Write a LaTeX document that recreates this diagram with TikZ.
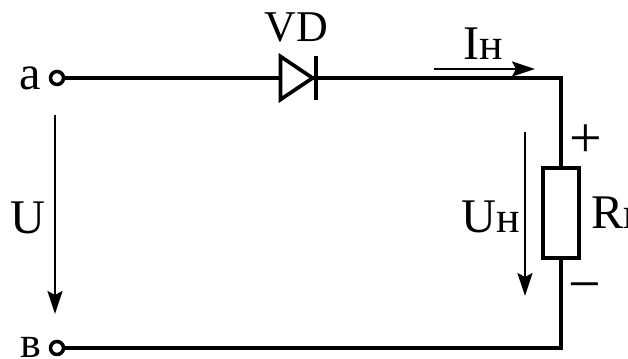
\documentclass[tikz,border=0pt]{standalone}
\usepackage{fontspec}
\setmainfont{Liberation Serif}
\usetikzlibrary{arrows.meta}
\usetikzlibrary{shapes.geometric}
\newcommand{\capsz}{\fontsize{27.5}{30}\selectfont}

\begin{document}
\begin{tikzpicture}[
	x=0.02cm,y=-0.02cm,
	font=\fontsize{25}{28}\selectfont
]
\tikzset{
    wire/.style = {line width=2.8pt},
    pointer/.style = {line width=1.3pt,-{Stealth[length=0.46cm,width=0.3cm,inset=0.08cm]}},
    terminal/.style = {circle, draw=black, line width=2pt, fill=white, inner sep=0pt, minimum size=0.26cm},
    loadbox/.style = {rectangle, draw=black, line width=2.4pt, fill=white, minimum width=0.72cm, minimum height=1.8cm, inner sep=0pt},
    diodebody/.style = {isosceles triangle, isosceles triangle apex angle=65, draw=black, line width=2.1pt, fill=white, inner sep=0pt, minimum height=0.64cm, minimum width=0.86cm, isosceles triangle stretches, anchor=apex},
    lbl/.style = {anchor=base west, inner sep=0pt},
    signlbl/.style = {lbl, font=\fontsize{33}{36}\selectfont}
}
\clip (0,0) rectangle (628,358);
% circuit
\node[terminal] (ta) at (57,78) {};
\node[terminal] (tb) at (57,348) {};
\coordinate (corner) at (561,78);
\coordinate (cornerb) at (561,348);
\node[loadbox] (rn) at (561,213) {};
\draw[wire] (ta) -- (corner) -- (rn.north);
\draw[wire] (rn.south) -- (cornerb) -- (tb);
\node[diodebody] (vd) at (316,78) {};
\coordinate (bartop) at (316,56);
\coordinate (barbot) at (316,100);
\draw[wire] (bartop) -- (barbot);
% arrows
\coordinate (ustart) at (55,115);
\coordinate (uend) at (55,314);
\draw[pointer] (ustart) -- (uend);
\coordinate (uhstart) at (525,132);
\coordinate (uhend) at (525,296);
\draw[pointer] (uhstart) -- (uhend);
\coordinate (ihstart) at (434,69);
\coordinate (ihend) at (535,69);
\draw[pointer] (ihstart) -- (ihend);
% labels
\node[lbl] (la) at (19,90) {\capsz а};
\node[lbl] (lb) at (20,357) {в};
\node[lbl] (lvd) at (264,42) {VD};
\node[lbl] (lih) at (463,60) {{\capsz I}н};
\node[lbl] (lu) at (10,233) {\capsz U};
\node[lbl] (luh) at (461,232) {{\capsz U}н};
\node[lbl] (lrn) at (591,228) {{\capsz R}н};
\node[signlbl] (lplus) at (569,157) {+};
\node[signlbl] (lminus) at (568,303) {−};
\end{tikzpicture}
\end{document}
